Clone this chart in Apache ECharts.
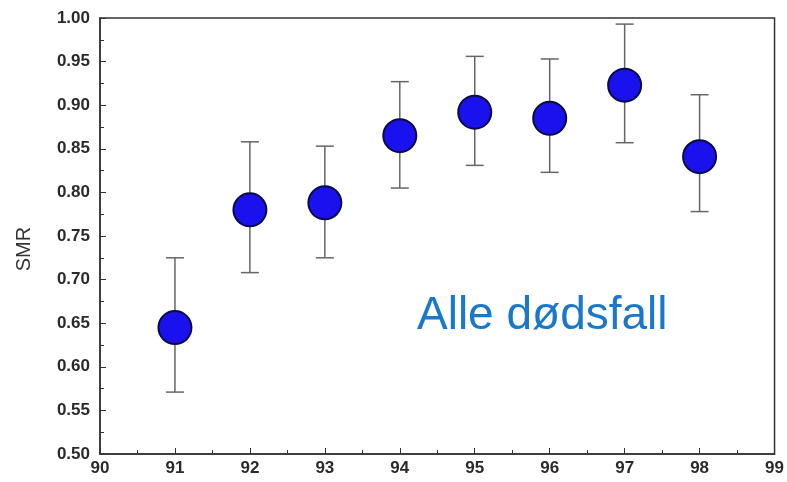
<!DOCTYPE html>
<html>
<head>
<meta charset="utf-8">
<style>html,body{margin:0;padding:0;background:#fff}#c{width:787px;height:482px}</style>
<script src="https://cdn.jsdelivr.net/npm/echarts@6/dist/echarts.min.js"></script>
</head>
<body>
<div id="c"></div>
<script>
const years = [91, 92, 93, 94, 95, 96, 97, 98];
const smr   = [0.645, 0.780, 0.788, 0.865, 0.892, 0.885, 0.923, 0.841];
const lower = [0.571, 0.708, 0.725, 0.805, 0.831, 0.823, 0.857, 0.778];
const upper = [0.725, 0.858, 0.853, 0.927, 0.956, 0.953, 0.993, 0.912];
const yLabel = 'SMR';
const annotation = 'Alle dødsfall';

const chart = echarts.init(document.getElementById('c'), null, {renderer: 'canvas'});
const axisColor = '#333';
const labelStyle = {color: '#2a2a2a', fontSize: 17, fontWeight: 'bold', fontFamily: 'Liberation Sans, Arial, sans-serif'};

chart.setOption({
  animation: false,
  backgroundColor: '#fff',
  grid: {left: 100, right: 12, top: 18, bottom: 28, show: true, borderColor: axisColor, borderWidth: 1.5},
  xAxis: {
    type: 'value', min: 90, max: 99, interval: 1,
    axisLine: {show: true, lineStyle: {color: axisColor, width: 1.5}},
    axisTick: {show: true, inside: true, length: 6, lineStyle: {color: axisColor}},
    minorTick: {show: true, splitNumber: 2, length: 4, lineStyle: {color: axisColor}},
    splitLine: {show: false},
    axisLabel: Object.assign({margin: 6}, labelStyle)
  },
  yAxis: {
    type: 'value', min: 0.5, max: 1.0, interval: 0.05,
    axisLine: {show: true, lineStyle: {color: axisColor, width: 1.5}},
    axisTick: {show: true, inside: true, length: 6, lineStyle: {color: axisColor}},
    minorTick: {show: true, splitNumber: 2, length: 4, lineStyle: {color: axisColor}},
    splitLine: {show: false},
    axisLabel: Object.assign({margin: 10, formatter: v => v.toFixed(2)}, labelStyle)
  },
  series: [
    {
      type: 'custom',
      data: years.map((y, i) => [y, lower[i], upper[i]]),
      renderItem: function (params, api) {
        const x = api.value(0);
        const lo = api.coord([x, api.value(1)]);
        const hi = api.coord([x, api.value(2)]);
        const hw = 9;
        const st = {stroke: '#666', lineWidth: 1.5};
        return {type: 'group', children: [
          {type: 'line', shape: {x1: lo[0], y1: lo[1], x2: hi[0], y2: hi[1]}, style: st},
          {type: 'line', shape: {x1: lo[0] - hw, y1: lo[1], x2: lo[0] + hw, y2: lo[1]}, style: st},
          {type: 'line', shape: {x1: hi[0] - hw, y1: hi[1], x2: hi[0] + hw, y2: hi[1]}, style: st}
        ]};
      },
      z: 2
    },
    {
      type: 'scatter',
      data: years.map((y, i) => [y, smr[i]]),
      symbol: 'circle', symbolSize: 33,
      itemStyle: {color: '#1a12ee', borderColor: '#0b0b45', borderWidth: 2, opacity: 1},
      z: 3
    }
  ],
  graphic: [
    {
      type: 'text', left: 417, top: 293,
      style: {text: annotation, fill: '#1a78cc', font: '46px "Liberation Sans", Arial, sans-serif'}
    },
    {
      type: 'text', x: 24, y: 249, rotation: Math.PI / 2,
      style: {text: yLabel, fill: '#333', font: '20px "Liberation Sans", Arial, sans-serif', align: 'center', verticalAlign: 'middle'}
    }
  ]
});
</script>
</body>
</html>
